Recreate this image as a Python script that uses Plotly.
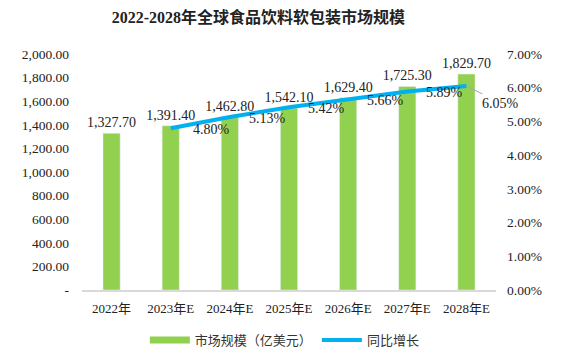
import plotly.graph_objects as go

years = ["2022年", "2023年E", "2024年E", "2025年E", "2026年E", "2027年E", "2028年E"]
market = [1327.70, 1391.40, 1462.80, 1542.10, 1629.40, 1725.30, 1829.70]
growth_years = years[1:]
growth = [0.0480, 0.0513, 0.0542, 0.0566, 0.0589, 0.0605]
left_ticks = [0, 200, 400, 600, 800, 1000, 1200, 1400, 1600, 1800, 2000]
right_ticks = [0, 0.01, 0.02, 0.03, 0.04, 0.05, 0.06, 0.07]

serif = "Liberation Serif, Times New Roman, Noto Sans CJK SC"
pct = [f"{v*100:.2f}%" for v in growth]
GREEN = "#92D050"
BLUE = "#00B0F0"

fig = go.Figure()
fig.add_trace(go.Bar(
    x=years, y=market, name="市场规模（亿美元）", showlegend=False,
    marker_color=GREEN,
    text=[f"{v:,.2f}" for v in market], textposition="outside",
    constraintext="none",
    textfont=dict(family=serif, size=14, color="#222"),
    cliponaxis=False,
))
# legend swatch for bars (wide rectangle like the reference)
fig.add_trace(go.Scatter(
    x=[None], y=[None], name="市场规模（亿美元）", mode="lines",
    line=dict(color=GREEN, width=7),
))
fig.add_trace(go.Scatter(
    x=growth_years, y=growth, name="同比增长", yaxis="y2",
    mode="lines", line=dict(color=BLUE, width=4),
    cliponaxis=False,
))
for i, (yr, g) in enumerate(zip(growth_years, growth)):
    if i < len(growth) - 1:
        fig.add_annotation(
            x=yr, y=g, xref="x", yref="y2", text=pct[i], showarrow=False,
            xanchor="left", yanchor="middle", xshift=20 if i == 0 else 17, yshift=-1,
            font=dict(family=serif, size=14, color="#222"),
        )
    else:
        fig.add_annotation(
            x=yr, y=g, xref="x", yref="y2",
            text=pct[i], showarrow=True, arrowhead=0, arrowcolor="#A6A6A6", arrowwidth=1,
            ax=34, ay=17, xanchor="center", yanchor="middle",
            font=dict(family=serif, size=14, color="#222"),
        )

fig.update_layout(
    width=568, height=361,
    margin=dict(l=82, r=72, t=54, b=71),
    paper_bgcolor="white", plot_bgcolor="white",
    title=dict(text="<b>2022-2028年全球食品饮料软包装市场规模</b>", x=0.455, xanchor="center",
               y=0.952, yanchor="middle",
               font=dict(family=serif, size=16, color="#222")),
    bargap=0.71,
    showlegend=True,
    legend=dict(orientation="h", x=0.49, xanchor="center",
                yref="container", y=0.058, yanchor="middle",
                font=dict(family="Noto Sans CJK SC", size=13, color="#333"),
                itemwidth=40),
    xaxis=dict(showgrid=False, showline=True, linecolor="#D9D9D9", linewidth=1.5,
               tickfont=dict(family=serif, size=13, color="#222"), ticks="",
               ticklabelstandoff=6,
               range=[-0.5, len(years) - 0.5], autorange=False,
               automargin=False),
    yaxis=dict(range=[0, 2000], autorange=False, tickvals=left_ticks,
               ticktext=["-" if v == 0 else f"{v:,.2f}" for v in left_ticks],
               showgrid=False, zeroline=False, automargin=False, ticklabelstandoff=12,
               tickfont=dict(family=serif, size=13.5, color="#222")),
    yaxis2=dict(range=[0, 0.07], autorange=False, tickvals=right_ticks,
                ticktext=[f"{v*100:.2f}%" for v in right_ticks],
                overlaying="y", side="right", showgrid=False, zeroline=False,
                automargin=False, ticklabelstandoff=10,
                tickfont=dict(family=serif, size=13.5, color="#222")),
)

fig.write_html("out.html", config={"displayModeBar": False},
               post_script="document.body.style.margin='0';")
